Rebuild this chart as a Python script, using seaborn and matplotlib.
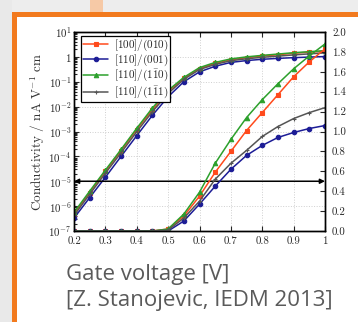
import numpy as np
import pandas as pd
import matplotlib
matplotlib.use("Agg")
import matplotlib.pyplot as plt
import seaborn as sns
from matplotlib.patches import Rectangle
from matplotlib.ticker import FixedLocator, FixedFormatter, LogLocator, NullFormatter

# ---------------- data ----------------
gate_voltage = [0.20, 0.25, 0.30, 0.35, 0.40, 0.45, 0.50, 0.55, 0.60,
                0.65, 0.70, 0.75, 0.80, 0.85, 0.90, 0.95, 1.00]

series_labels = [r"$[100]/(010)$", r"$[110]/(001)$",
                 r"$[110]/(1\bar{1}0)$", r"$[110]/(1\bar{1}1)$"]

# conductivity, log scale (left axis)
log_100_010 = [4.9e-7, 3.5e-6, 2.5e-5, 1.7e-4, 1.2e-3, 7.6e-3, 4.0e-2, 0.14, 0.34,
               0.55, 0.76, 0.93, 1.08, 1.22, 1.40, 1.55, 1.70]
log_110_001 = [3.3e-7, 2.2e-6, 1.45e-5, 1.0e-4, 6.8e-4, 4.5e-3, 2.5e-2, 0.10, 0.25,
               0.42, 0.60, 0.71, 0.80, 0.87, 0.93, 0.98, 1.03]
log_110_1b10 = [5.6e-7, 4.0e-6, 2.8e-5, 1.9e-4, 1.35e-3, 8.9e-3, 4.5e-2, 0.15, 0.37,
                0.60, 0.83, 1.00, 1.15, 1.30, 1.47, 1.62, 1.78]
log_110_1b11 = [4.2e-7, 3.0e-6, 2.1e-5, 1.4e-4, 9.8e-4, 6.3e-3, 3.4e-2, 0.125, 0.31,
                0.50, 0.70, 0.84, 0.96, 1.07, 1.20, 1.32, 1.45]

# conductivity, linear scale (right axis)
lin_100_010 = [0, 0, 0, 0, 0, 0, 0.02, 0.15, 0.35, 0.59, 0.80, 1.01, 1.19, 1.37, 1.55, 1.70, 1.83]
lin_110_001 = [0, 0, 0, 0, 0, 0, 0.00, 0.10, 0.27, 0.45, 0.62, 0.76, 0.86, 0.94, 0.99, 1.03, 1.06]
lin_110_1b10 = [0, 0, 0, 0, 0, 0, 0.02, 0.17, 0.39, 0.68, 0.92, 1.14, 1.32, 1.48, 1.63, 1.76, 1.88]
lin_110_1b11 = [0, 0, 0, 0, 0, 0, 0.01, 0.13, 0.30, 0.52, 0.68, 0.81, 0.95, 1.05, 1.13, 1.19, 1.24]

x_ticks = [0.2, 0.3, 0.4, 0.5, 0.6, 0.7, 0.8, 0.9, 1.0]
x_tick_labels = ["0.2", "0.3", "0.4", "0.5", "0.6", "0.7", "0.8", "0.9", "1"]
y_ticks = [1e-7, 1e-6, 1e-5, 1e-4, 1e-3, 1e-2, 1e-1, 1, 10]
y_tick_labels = [r"$10^{-7}$", r"$10^{-6}$", r"$10^{-5}$", r"$10^{-4}$", r"$10^{-3}$",
                 r"$10^{-2}$", r"$10^{-1}$", r"$1$", r"$10^{1}$"]
y2_ticks = [0.0, 0.2, 0.4, 0.6, 0.8, 1.0, 1.2, 1.4, 1.6, 1.8, 2.0]
y2_tick_labels = ["0.0", "0.2", "0.4", "0.6", "0.8", "1.0", "1.2", "1.4", "1.6", "1.8", "2.0"]
marker_level = 1e-5

# ---------------- style ----------------
sns.set_style("ticks")
plt.rcParams["font.family"] = ["cmr10", "DejaVu Serif"]
plt.rcParams["mathtext.fontset"] = "cm"
plt.rcParams["axes.formatter.use_mathtext"] = True
plt.rcParams["axes.unicode_minus"] = False

colors = ["#ff4a1c", "#1c1c96", "#2ca02c", "#555555"]
markers = ["s", "o", "^", "+"]

W, H = 358, 322
fig = plt.figure(figsize=(W / 100, H / 100), dpi=100, facecolor="white")

# slide decoration
fig.add_artist(Rectangle((0, 1 - 12 / H), 1, 12 / H, transform=fig.transFigure,
                         facecolor="#ededed", edgecolor="none", zorder=0))
fig.add_artist(Rectangle((0, 0), 12 / W, 1, transform=fig.transFigure,
                         facecolor="#e9e9e9", edgecolor="none", zorder=0))
fig.add_artist(Rectangle((90 / W, 1 - 12 / H), 13 / W, 12 / H, transform=fig.transFigure,
                         facecolor="#f6c9a6", edgecolor="none", zorder=1))
fig.add_artist(Rectangle((12 / W, 1 - 16.5 / H), 1 - 12 / W, 4.5 / H, transform=fig.transFigure,
                         facecolor="#f27a1e", edgecolor="none", zorder=2))
fig.add_artist(Rectangle((12 / W, 0), 4.5 / W, 1 - 12 / H, transform=fig.transFigure,
                         facecolor="#f27a1e", edgecolor="none", zorder=2))

ax = fig.add_axes([74 / W, 1 - 231 / H, 251 / W, 199 / H])
ax2 = ax.twinx()

log_series = [log_100_010, log_110_001, log_110_1b10, log_110_1b11]
lin_series = [lin_100_010, lin_110_001, lin_110_1b10, lin_110_1b11]

for vals, lab, c, m in zip(log_series, series_labels, colors, markers):
    sns.lineplot(x=gate_voltage, y=vals, ax=ax, color=c, marker=m, markersize=3.2,
                 markeredgecolor=c, markeredgewidth=0.8, linewidth=1.1, label=lab)
for vals, lab, c, m in zip(lin_series, series_labels, colors, markers):
    sns.lineplot(x=gate_voltage, y=vals, ax=ax2, color=c, marker=m, markersize=3.2,
                 markeredgecolor=c, markeredgewidth=0.8, linewidth=1.1, legend=False)

ax.set_yscale("log")
ax.set_xlim(0.2, 1.0)
ax.set_ylim(1e-7, 1e1)
ax2.set_ylim(0, 2.0)

ax.xaxis.set_major_locator(FixedLocator(x_ticks))
ax.xaxis.set_major_formatter(FixedFormatter(x_tick_labels))
ax.yaxis.set_major_locator(FixedLocator(y_ticks))
ax.yaxis.set_major_formatter(FixedFormatter(y_tick_labels))
ax.yaxis.set_minor_locator(LogLocator(base=10, subs=np.arange(2, 10)))
ax.yaxis.set_minor_formatter(NullFormatter())
ax2.yaxis.set_major_locator(FixedLocator(y2_ticks))
ax2.yaxis.set_major_formatter(FixedFormatter(y2_tick_labels))

ax.tick_params(axis="both", which="both", direction="in", labelsize=7.8, pad=2,
               top=True, width=0.8)
ax.tick_params(axis="both", which="major", length=3.5)
ax.tick_params(axis="y", which="minor", length=1.8)
ax.tick_params(axis="x", which="major", pad=4)
ax2.tick_params(axis="y", direction="in", labelsize=7.8, length=3.5, width=0.8, pad=5)

ax.grid(True, which="major", color="#cfcfcf", linestyle=":", linewidth=0.7)
for a in (ax, ax2):
    for s in a.spines.values():
        s.set_linewidth(1.0)
        s.set_color("black")

ax.set_xlabel("")
ax.set_ylabel(r"Conductivity / nA V$^{-1}$ cm", fontsize=9.5, labelpad=1, color="#333333")
ax2.set_ylabel("")

# arrow at the threshold level
ax.annotate("", xy=(0.2, marker_level), xytext=(1.0, marker_level),
            arrowprops=dict(arrowstyle="<|-|>", color="black", lw=1.1,
                            mutation_scale=7, shrinkA=0, shrinkB=0), zorder=5)

leg = ax.legend(loc="upper left", bbox_to_anchor=(0.02, 0.99), fontsize=8,
                frameon=True, fancybox=False, edgecolor="black", framealpha=1,
                handlelength=2.3, handletextpad=0.5, borderpad=0.15, labelspacing=0.0,
                borderaxespad=0.2)
leg.get_frame().set_linewidth(0.9)
leg.set_zorder(10)

fig.text(66 / W, 1 - 280 / H, "Gate voltage [V]", fontsize=16, color="#5a5a5a",
         family=["Open Sans"])
fig.text(66 / W, 1 - 306 / H, "[Z. Stanojevic, IEDM 2013]", fontsize=16, color="#5a5a5a",
         family=["Open Sans"])

fig.savefig("out.png", dpi=100, facecolor="white")
